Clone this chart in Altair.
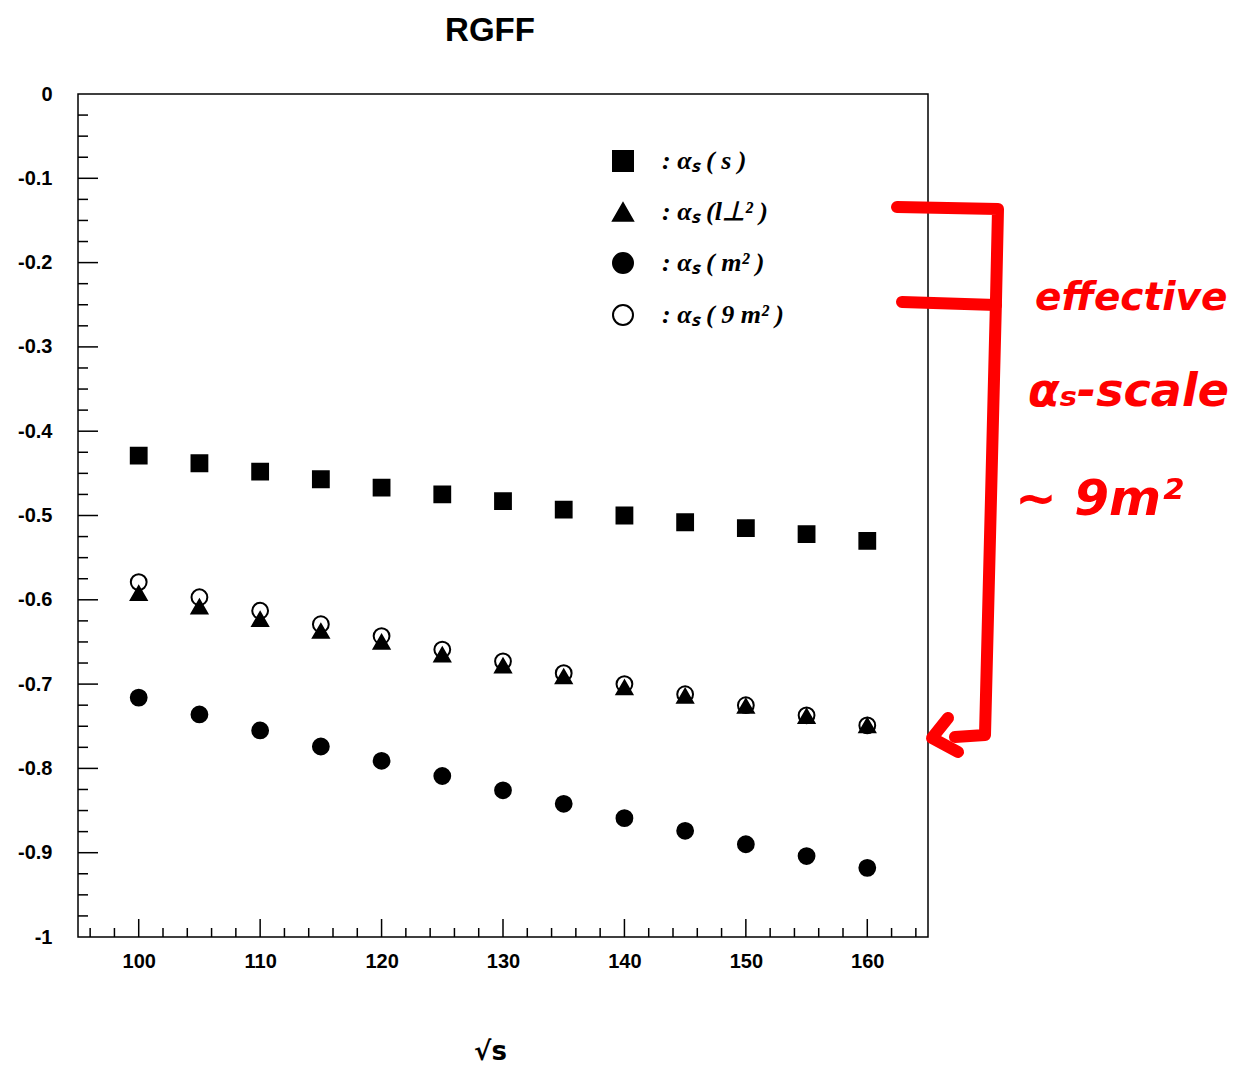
import altair as alt
import pandas as pd
import numpy as np

# ---- data ----
sqrt_s = [100, 105, 110, 115, 120, 125, 130, 135, 140, 145, 150, 155, 160]
alpha_s_s = [-0.429, -0.438, -0.448, -0.457, -0.467, -0.475, -0.483, -0.493, -0.500, -0.508, -0.515, -0.522, -0.530]
alpha_s_lperp = [-0.592, -0.608, -0.623, -0.637, -0.650, -0.665, -0.678, -0.691, -0.704, -0.714, -0.726, -0.738, -0.749]
alpha_s_m2 = [-0.716, -0.736, -0.755, -0.774, -0.791, -0.809, -0.826, -0.842, -0.859, -0.874, -0.890, -0.904, -0.918]
alpha_s_9m2 = [-0.579, -0.597, -0.613, -0.629, -0.643, -0.659, -0.673, -0.687, -0.700, -0.712, -0.725, -0.737, -0.749]

series_labels = [": αₛ ( s )", ": αₛ (l⊥² )", ": αₛ ( m² )", ": αₛ ( 9 m² )"]
series_shapes = ["square", "triangle-up", "circle", "circle"]
series_fills = ["black", "black", "black", "transparent"]
draw_order = [1, 2, 3, 0]

x_major = [100, 110, 120, 130, 140, 150, 160]
y_major = [0, -0.1, -0.2, -0.3, -0.4, -0.5, -0.6, -0.7, -0.8, -0.9, -1]

annot_lines = ["effective", "αₛ-scale", "~ 9m²"]

# ---- build tables ----
rows = []
for lab, vals in zip(series_labels, [alpha_s_s, alpha_s_lperp, alpha_s_m2, alpha_s_9m2]):
    for xv, yv in zip(sqrt_s, vals):
        rows.append({"x": xv, "y": yv, "series": lab})
df = pd.DataFrame(rows)
df["order"] = df["series"].map({l: o for l, o in zip(series_labels, draw_order)})

XD = [95, 165]
YD = [-1, 0]
W, H = 850, 843
xpp = (XD[1] - XD[0]) / W   # data units per pixel
ypp = (YD[1] - YD[0]) / H

xs = alt.Scale(domain=XD, nice=False, zero=False)
ys = alt.Scale(domain=YD, nice=False, zero=False)

points = alt.Chart(df).mark_point(filled=False, size=250, strokeWidth=2, opacity=1).encode(
    x=alt.X("x:Q", scale=xs,
            axis=alt.Axis(values=x_major, title="√s", grid=False, ticks=False, domain=False,
                          labelFont="Liberation Sans", labelFontWeight="bold", labelFontSize=20,
                          labelColor="black", labelPadding=14,
                          titleFont="DejaVu Sans", titleFontWeight="bold", titleFontSize=26,
                          titleColor="black", titlePadding=67, titleX=412)),
    y=alt.Y("y:Q", scale=ys,
            axis=alt.Axis(values=y_major, title=None, grid=False, ticks=False, domain=False,
                          labelFont="Liberation Sans", labelFontWeight="bold", labelFontSize=20,
                          labelColor="black", labelPadding=26,
                          labelExpr="datum.value == 0 ? '0' : (datum.value == -1 ? '-1' : '-' + format(-datum.value, '.1f'))")),
    shape=alt.Shape("series:N", scale=alt.Scale(domain=series_labels, range=series_shapes),
                    legend=alt.Legend(title=None, orient="none", legendX=532, legendY=54,
                                      labelFont="Liberation Serif", labelFontStyle="italic",
                                      labelFontWeight="bold", labelFontSize=26, labelColor="black",
                                      symbolSize=400, symbolStrokeWidth=2,
                                      rowPadding=24, labelOffset=26, padding=0)),
    fill=alt.Fill("series:N", scale=alt.Scale(domain=series_labels, range=series_fills)),
    stroke=alt.Stroke("series:N", scale=alt.Scale(domain=series_labels,
                                                  range=["black", "black", "black", "black"])),
    order=alt.Order("order:Q"),
)

# ---- inward tick marks (ROOT style) ----
x_minor = [v for v in range(96, 165, 2) if v % 10 != 0]
y_minor = [round(-0.025 * k, 3) for k in range(1, 40) if k % 4 != 0]
xt = pd.DataFrame({"x": x_major + x_minor,
                   "len": [18 * ypp] * len(x_major) + [9 * ypp] * len(x_minor)})
xt["y"] = YD[0]
xt["y2"] = YD[0] + xt["len"]
yt = pd.DataFrame({"y": y_major[1:-1] + y_minor,
                   "len": [20 * xpp] * (len(y_major) - 2) + [10 * xpp] * len(y_minor)})
yt["x"] = XD[0]
yt["x2"] = XD[0] + yt["len"]

xticks = alt.Chart(xt).mark_rule(color="black", strokeWidth=1.5).encode(
    x=alt.X("x:Q", scale=xs), y=alt.Y("y:Q", scale=ys), y2="y2:Q")
yticks = alt.Chart(yt).mark_rule(color="black", strokeWidth=1.5).encode(
    y=alt.Y("y:Q", scale=ys), x=alt.X("x:Q", scale=xs), x2="x2:Q")

# ---- red handwritten annotation (bracket + arrow + text), in data coordinates ----
def px2x(p):
    return XD[0] + (p - 78) * xpp

def py2y(p):
    return YD[1] - (p - 94) * ypp

bracket_paths = [
    [(897, 207), (998, 209), (996, 300)],
    [(902, 302), (996, 305)],
    [(996, 300), (985, 735), (955, 737)],
    [(948, 718), (932, 738), (958, 752)],
]
brows = []
for i, path in enumerate(bracket_paths):
    for j, (px, py) in enumerate(path):
        brows.append({"path": i, "k": j, "x": px2x(px), "y": py2y(py)})
bdf = pd.DataFrame(brows)
bracket = alt.Chart(bdf).mark_line(color="#ff0000", strokeWidth=12, strokeCap="round",
                                   strokeJoin="round").encode(
    x=alt.X("x:Q", scale=xs), y=alt.Y("y:Q", scale=ys), detail="path:N", order="k:Q")

tdf = pd.DataFrame({"t": annot_lines,
                    "x": [px2x(1035), px2x(1028), px2x(1015)],
                    "y": [py2y(298), py2y(392), py2y(500)],
                    "fs": [39, 46, 50]})
atext = alt.Chart(tdf).mark_text(color="#ff0000", font="DejaVu Sans", fontWeight="bold",
                                 fontStyle="italic", align="left",
                                 baseline="middle").encode(
    x=alt.X("x:Q", scale=xs), y=alt.Y("y:Q", scale=ys), text="t:N",
    size=alt.Size("fs:Q", scale=None, legend=None))

chart = alt.layer(xticks, yticks, points, bracket, atext).properties(
    width=W, height=H, background="white",
    title=alt.TitleParams("RGFF", font="Liberation Sans", fontWeight="bold", fontSize=33,
                          color="black", offset=36, dx=-13, anchor="middle", frame="group"),
    autosize=alt.AutoSizeParams(type="none"),
    padding={"left": 70, "top": 86, "right": 300, "bottom": 128},
).configure_view(stroke="black", strokeWidth=1.5)

chart.save("out.html", embed_options={"renderer": "svg", "actions": False})
